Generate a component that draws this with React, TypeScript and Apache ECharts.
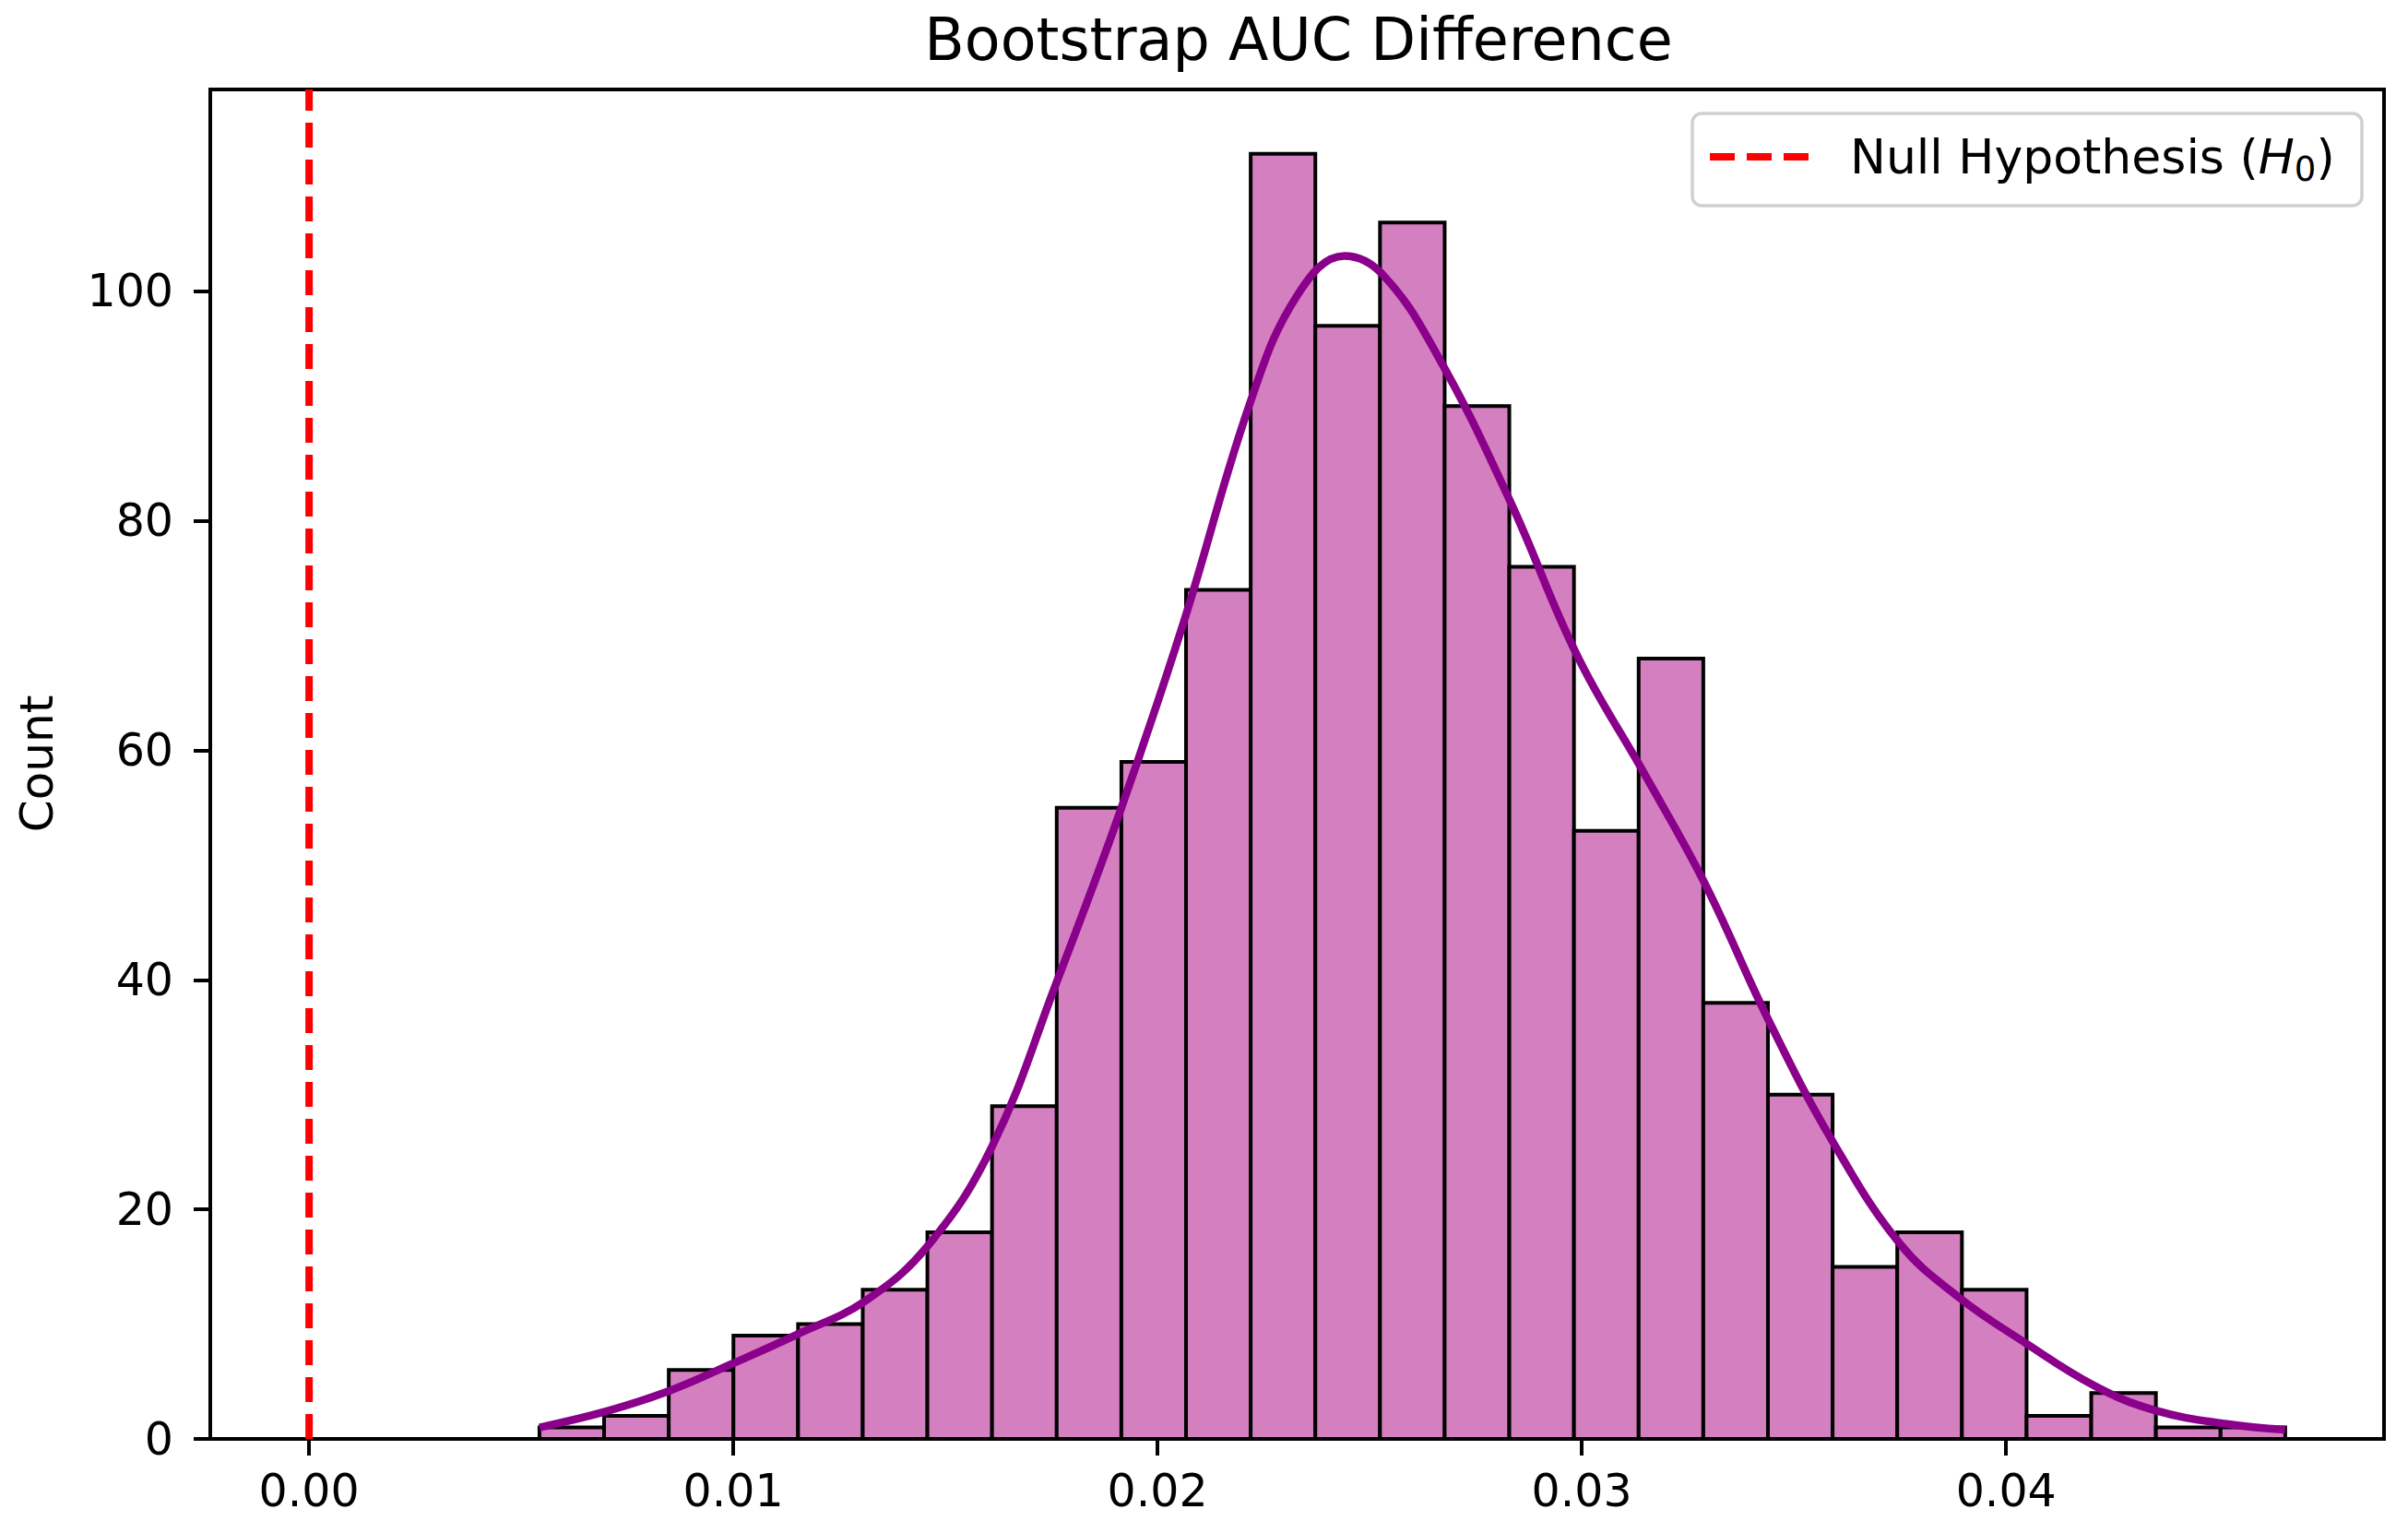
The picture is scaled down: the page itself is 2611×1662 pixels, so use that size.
import React, { useEffect, useRef } from "react";
import * as echarts from "echarts";

// ---- data ----
const titleText = "Bootstrap AUC Difference";
const yAxisTitle = "Count";
const legendLabel = "Null Hypothesis";
const xTicks = [0, 0.01, 0.02, 0.03, 0.04];
const yTicks = [0, 20, 40, 60, 80, 100];
const binStart = 0.00543;
const binEnd = 0.04658;
const counts = [1, 2, 6, 9, 10, 13, 18, 29, 55, 59, 74, 112, 97, 106, 90, 76, 53, 68, 38, 30, 15, 18, 13, 2, 4, 1, 1];
const kdeX = [0.00543, 0.007, 0.0085, 0.01, 0.0115, 0.0131, 0.0146, 0.0161, 0.0176, 0.0191, 0.0206, 0.0222, 0.0233, 0.0244, 0.0253, 0.0266, 0.0283, 0.0299, 0.0315, 0.0329, 0.0344, 0.0359, 0.0375, 0.0389, 0.0404, 0.0421, 0.0435, 0.0452, 0.04658];
const kdeY = [1.0, 2.4, 4.2, 6.6, 9.1, 12.0, 16.9, 25.5, 39.6, 54.5, 71, 90.5, 99.7, 103.1, 101.5, 94.4, 81.8, 68.2, 57.8, 48.4, 36.5, 26.0, 17.0, 12.3, 8.5, 4.6, 2.5, 1.3, 0.8];
const nullValue = 0;
const xMin = -0.002329;
const xMax = 0.048909;
const yMax = 117.6;

const FONT = "DejaVu Sans";

function buildOption() {
  const n = counts.length;
  const w = (binEnd - binStart) / n;
  const bars = counts.map((c, i) => [binStart + i * w, binStart + (i + 1) * w, c]);
  const kde = kdeX.map((x, i) => [x, kdeY[i]]);

  return {
    animation: false,
    backgroundColor: "#ffffff",
    grid: {
      left: 228,
      top: 97,
      width: 2357,
      height: 1463,
      show: true,
      borderColor: "#000000",
      borderWidth: 4,
      backgroundColor: "transparent",
    },
    xAxis: {
      type: "value",
      min: xMin,
      max: xMax,
      axisLine: { show: true, onZero: false, lineStyle: { color: "#000", width: 4 } },
      axisTick: { show: true, length: 18, lineStyle: { color: "#000", width: 4 }, customValues: xTicks },
      axisLabel: {
        show: true,
        customValues: xTicks,
        formatter: (v: number) => v.toFixed(2),
        fontSize: 49,
        lineHeight: 50,
        fontFamily: FONT,
        color: "#000",
        margin: 31,
      },
      splitLine: { show: false },
    },
    yAxis: {
      type: "value",
      min: 0,
      max: yMax,
      axisLine: { show: true, onZero: false, lineStyle: { color: "#000", width: 4 } },
      axisTick: { show: true, length: 18, lineStyle: { color: "#000", width: 4 }, customValues: yTicks },
      axisLabel: {
        show: true,
        customValues: yTicks,
        formatter: (v: number) => String(Math.round(v)),
        fontSize: 49,
        fontFamily: FONT,
        color: "#000",
        margin: 40,
      },
      splitLine: { show: false },
    },
    series: [
      {
        type: "custom",
        z: 2,
        encode: { x: [0, 1], y: 2 },
        data: bars,
        renderItem: (params: any, api: any) => {
          const x0 = api.value(0);
          const x1 = api.value(1);
          const c = api.value(2);
          const p0 = api.coord([x0, c]);
          const p1 = api.coord([x1, 0]);
          return {
            type: "rect",
            shape: { x: p0[0], y: p0[1], width: p1[0] - p0[0], height: p1[1] - p0[1] },
            style: { fill: "#D480C0", stroke: "#000000", lineWidth: 4 },
          };
        },
      },
      {
        type: "line",
        z: 3,
        data: kde,
        smooth: 0.4,
        showSymbol: false,
        symbol: "none",
        lineStyle: { color: "#8B008B", width: 8.5 },
      },
      {
        type: "line",
        z: 4,
        data: [
          [nullValue, 0],
          [nullValue, yMax],
        ],
        showSymbol: false,
        symbol: "none",
        lineStyle: { color: "#FF0000", width: 8, type: [27, 13] },
      },
    ],
    graphic: [
      {
        type: "text",
        x: 1408,
        y: 43,
        style: {
          text: titleText,
          fontSize: 63.5,
          fontFamily: FONT,
          fill: "#000",
          align: "center",
          verticalAlign: "middle",
        },
      },
      {
        type: "text",
        x: 40,
        y: 828,
        rotation: Math.PI / 2,
        style: {
          text: yAxisTitle,
          fontSize: 50,
          fontFamily: FONT,
          fill: "#000",
          align: "center",
          verticalAlign: "middle",
        },
      },
      {
        type: "group",
        z: 100,
        children: [
          {
            type: "rect",
            shape: { x: 1835, y: 123, width: 726, height: 100, r: 10 },
            style: { fill: "rgba(255,255,255,0.8)", stroke: "#d0d0d0", lineWidth: 3.5 },
          },
          {
            type: "line",
            shape: { x1: 1854, y1: 170, x2: 1961, y2: 170 },
            style: { stroke: "#FF0000", lineWidth: 8, lineDash: [27, 13] },
          },
          {
            type: "text",
            x: 2006,
            y: 170,
            style: {
              text: "{a|" + legendLabel + " (}{i|H}{s|0}{a|)}",
              fill: "#000",
              align: "left",
              verticalAlign: "middle",
              rich: {
                a: { fontSize: 52, fontFamily: FONT, lineHeight: 64, verticalAlign: "middle" },
                i: { fontSize: 52, fontFamily: FONT, fontStyle: "italic", lineHeight: 64, verticalAlign: "middle" },
                s: { fontSize: 37, fontFamily: FONT, lineHeight: 37, verticalAlign: "bottom" },
              },
            },
          },
        ],
      },
    ],
  };
}

export default function App() {
  const ref = useRef<HTMLDivElement>(null);
  useEffect(() => {
    if (!ref.current) return;
    const chart = echarts.init(ref.current, null, { renderer: "svg" });
    chart.setOption(buildOption() as any);
    return () => chart.dispose();
  }, []);
  return (
    <div
      ref={ref}
      style={{ position: "fixed", left: 0, top: 0, width: 2611, height: 1662, background: "#ffffff" }}
    />
  );
}
